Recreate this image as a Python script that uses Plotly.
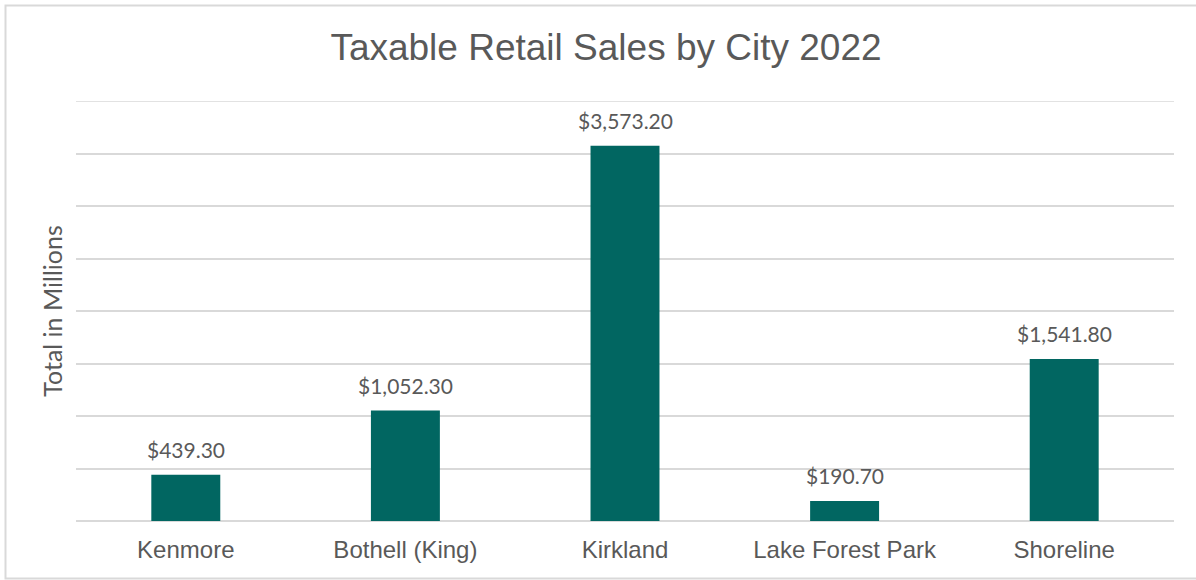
import plotly.graph_objects as go

cities = ["Kenmore", "Bothell (King)", "Kirkland", "Lake Forest Park", "Shoreline"]
sales = [439.30, 1052.30, 3573.20, 190.70, 1541.80]

W, H = 1196, 580
L, R, T, B = 76, 22, 101, 59
pw, ph = W - L - R, H - T - B

TEXT = "#595959"
GRID = "#d9d9d9"
BAR = "#016661"
Y_MAX = 4000

fig = go.Figure(go.Bar(
    x=cities, y=sales, marker=dict(color=BAR, line=dict(width=0)),
    hoverinfo="skip",
))

# value labels above each bar
for c, v in zip(cities, sales):
    fig.add_annotation(
        x=c, y=v, text=f"${v:,.2f}", showarrow=False,
        yanchor="bottom", yshift=11,
        font=dict(family="Lato, Open Sans, sans-serif", size=21, color=TEXT),
    )

# gridline along the top of the value range
fig.add_hline(y=Y_MAX, line=dict(color=GRID, width=1.5), layer="below")

# outer chart frame
def px_x(p):
    return (p - L) / pw

def px_y(p):
    return (H - B - p) / ph

fig.add_shape(
    type="rect", xref="paper", yref="paper",
    x0=px_x(5.5), x1=px_x(1210), y0=px_y(5.5), y1=px_y(578.5),
    line=dict(color=GRID, width=2), layer="below",
)

fig.update_layout(
    width=W, height=H,
    margin=dict(l=L, r=R, t=T, b=B),
    plot_bgcolor="white", paper_bgcolor="white",
    bargap=0.686,
    showlegend=False,
    title=dict(
        text="Taxable Retail Sales by City 2022",
        x=606 / W, xanchor="center", y=1 - 47 / H, yanchor="middle",
        font=dict(family="Liberation Sans, Arial, sans-serif", size=37, color=TEXT),
    ),
    xaxis=dict(
        showline=False, ticks="", showgrid=False, ticklabelstandoff=12,
        tickfont=dict(family="Liberation Sans, Arial, sans-serif", size=24, color=TEXT),
    ),
    yaxis=dict(
        range=[0, Y_MAX], dtick=500, showticklabels=False, ticks="",
        showgrid=True, gridcolor=GRID, gridwidth=1.5,
        zeroline=True, zerolinecolor=GRID, zerolinewidth=1.5,
        title=dict(text="Total in Millions", standoff=5,
                   font=dict(family="Lato, Open Sans, sans-serif", size=25, color=TEXT)),
    ),
)

fig.write_html("out.html")
